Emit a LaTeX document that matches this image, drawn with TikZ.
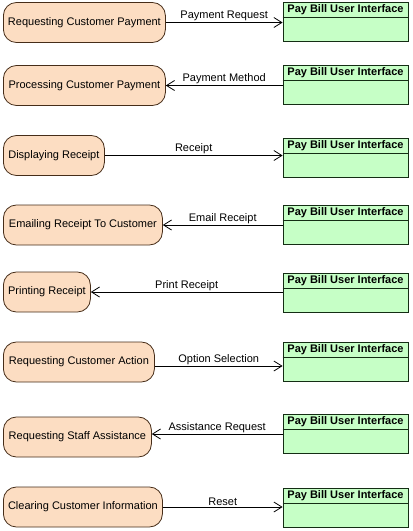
\documentclass[tikz,border=0pt]{standalone}
\usepackage{fontspec}
\setmainfont{Liberation Sans}
\usetikzlibrary{arrows.meta}

\definecolor{statefill}{RGB}{252,221,194}
\definecolor{stateline}{RGB}{70,45,25}
\definecolor{uifill}{RGB}{198,255,198}
\definecolor{uiline}{RGB}{20,45,20}

\tikzset{
  state/.style={draw=stateline, fill=statefill, rounded corners=13pt,
    minimum height=40pt, inner sep=0pt, anchor=west},
  uibox/.style={draw=uiline, fill=uifill, minimum width=125pt,
    minimum height=39pt, inner sep=0pt},
  uihead/.style={font=\fontsize{11}{13}\selectfont\bfseries,
    minimum height=14.5pt, inner sep=0pt, anchor=north},
  msg/.style={-{Straight Barb[length=8pt,width=10pt]}},
  lbl/.style={above, inner sep=1pt}
}

\begin{document}
\begin{tikzpicture}[x=1pt,y=-1pt,line width=0.8pt,font=\fontsize{11}{13}\selectfont]
\useasboundingbox (0,0) rectangle (413,531);

% the states
\node[state, minimum width=162pt] (s1) at (3,22.5) {Requesting Customer Payment};
\node[state, minimum width=162pt] (s2) at (3,85.5) {Processing Customer Payment};
\node[state, minimum width=101pt] (s3) at (3,155.5) {Displaying Receipt};
\node[state, minimum width=159pt] (s4) at (3,225) {Emailing Receipt To Customer};
\node[state, minimum width=87pt] (s5) at (3,292) {Printing Receipt};
\node[state, minimum width=151pt] (s6) at (3,362) {Requesting Customer Action};
\node[state, minimum width=148pt] (s7) at (3,437) {Requesting Staff Assistance};
\node[state, minimum width=159pt] (s8) at (3,507) {Clearing Customer Information};

% the interfaces
\foreach \i/\y in {1/21.5,2/84.5,3/157.5,4/224.5,5/292.5,6/361.5,7/433.5,8/507.5}
    {\node[uibox] (c\i) at (345.5,\y) {};
     \node[uihead] (h\i) at (c\i.north) {Pay Bill User Interface};
     \draw[uiline] (h\i.south -| c\i.west) -- (h\i.south -| c\i.east);};

% messages
\coordinate (e6) at ([yshift=-4pt]s6.east);
\coordinate (e7) at ([yshift=3pt]s7.east);

\path (s1.east) edge[msg] node[lbl] {Payment Request} (c1.west |- s1.east)
      (c2.west |- s2.east) edge[msg] node[lbl] {Payment Method} (s2.east)
      (s3.east) edge[msg] node[lbl] {Receipt} (c3.west |- s3.east)
      (c4.west |- s4.east) edge[msg] node[lbl] {Email Receipt} (s4.east)
      (c5.west |- s5.east) edge[msg] node[lbl] {Print Receipt} (s5.east)
      (e6) edge[msg] node[lbl] {Option Selection} (c6.west |- e6)
      (c7.west |- e7) edge[msg] node[lbl] {Assistance Request} (e7)
      (s8.east) edge[msg] node[lbl] {Reset} (c8.west |- s8.east);
\end{tikzpicture}
\end{document}
